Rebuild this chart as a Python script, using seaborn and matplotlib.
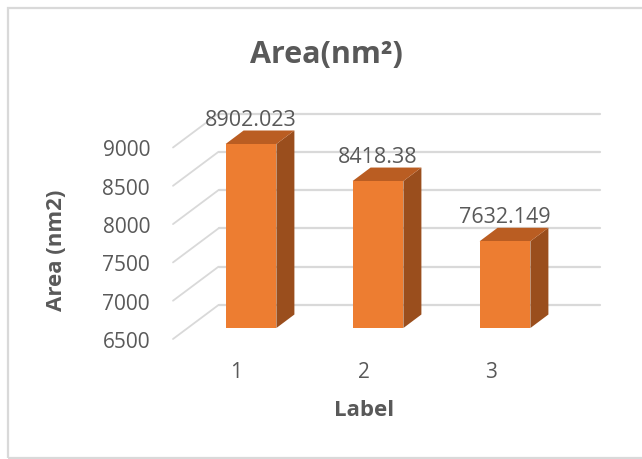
import matplotlib
matplotlib.use("Agg")
import matplotlib.pyplot as plt
from matplotlib.patches import Polygon, Rectangle
from matplotlib.lines import Line2D
from matplotlib.transforms import ScaledTranslation
import seaborn as sns
import pandas as pd

# data
labels = ["1", "2", "3"]
areas = [8902.023, 8418.38, 7632.149]
y_ticks = [6500, 7000, 7500, 8000, 8500, 9000]

TEXT = "#595959"
GRID = "#D9D9D9"
FRONT = "#ED7D31"
SIDE = "#9A4E1D"
TOP = "#BA5D22"
DPI = 100
W, H = 642, 460

sns.set_theme(style="white")
plt.rcParams["font.family"] = ["Open Sans", "DejaVu Sans"]

fig = plt.figure(figsize=(W / DPI, H / DPI), dpi=DPI)
fig.patch.set_facecolor("white")

# plane that holds the bar fronts (pixel layout)
ax = fig.add_axes([187.5 / W, 131 / H, 381 / W, 191.5 / H])
ax.set_facecolor("none")

df = pd.DataFrame({"Label": labels, "Area": areas})
sns.barplot(data=df, x="Label", y="Area", ax=ax, color=FRONT,
            saturation=1, width=0.4, linewidth=0, edgecolor=FRONT, zorder=3)
ax.set_xlim(-0.5, 2.5)
ax.set_ylim(y_ticks[0], y_ticks[-1])
ax.set_yticks(y_ticks)
for s in ax.spines.values():
    s.set_visible(False)
ax.grid(False)

# perspective offsets in pixels
front_dx, front_dy = -14.5, -11
back_dx, back_dy = 31, 23
depth_dx, depth_dy = 18, 13.5

front_off = ScaledTranslation(front_dx / DPI, front_dy / DPI, fig.dpi_scale_trans)
back_off = ScaledTranslation(back_dx / DPI, back_dy / DPI, fig.dpi_scale_trans)

# back wall gridlines and side-wall diagonals
for v in y_ticks:
    ax.plot([-0.5, 2.5], [v, v], color=GRID, lw=1.6,
            transform=ax.transData + back_off, clip_on=False, zorder=0)
inv = ax.transData.inverted()
for v in y_ticks:
    px, py = ax.transData.transform((-0.5, v))
    p0 = inv.transform((px + front_dx, py + front_dy))
    p1 = inv.transform((px + back_dx, py + back_dy))
    ax.add_line(Line2D([p0[0], p1[0]], [p0[1], p1[1]], color=GRID, lw=1.3,
                       clip_on=False, zorder=0))

# depth of each bar in data units
o = ax.transData.transform((0, y_ticks[0]))
d = inv.transform((o[0] + depth_dx, o[1] + depth_dy))
ddx, ddy = d[0], d[1] - y_ticks[0]

base = y_ticks[0]
for bar in list(ax.patches):
    x0 = bar.get_x()
    w = bar.get_width()
    top = bar.get_y() + bar.get_height()
    side = Polygon([(x0 + w, base), (x0 + w, top), (x0 + w + ddx, top + ddy),
                    (x0 + w + ddx, base + ddy)], closed=True, facecolor=SIDE,
                   edgecolor="none", clip_on=False, zorder=2)
    lid = Polygon([(x0, top), (x0 + w, top), (x0 + w + ddx, top + ddy),
                   (x0 + ddx, top + ddy)], closed=True, facecolor=TOP,
                  edgecolor="none", clip_on=False, zorder=2)
    ax.add_patch(side)
    ax.add_patch(lid)

# value labels above each bar
for i, v in enumerate(areas):
    ax.annotate(str(v), xy=(i, v), xytext=(0, 14 * 72 / DPI),
                textcoords="offset points", ha="center", va="bottom",
                fontsize=15.5, color=TEXT, zorder=5, annotation_clip=False)

# tick labels sit on the front plane
ax.tick_params(axis="y", length=0, pad=23 * 72 / DPI, labelsize=15, labelcolor=TEXT)
ax.tick_params(axis="x", length=0, pad=22 * 72 / DPI, labelsize=15, labelcolor=TEXT)
for lab in ax.get_yticklabels() + ax.get_xticklabels():
    lab.set_transform(lab.get_transform() + front_off)

ax.set_xlabel("Label", fontsize=16, fontweight="bold", color=TEXT)
ax.xaxis.set_label_coords((364 - 187.5) / 381, (H - 411 - 131) / 191.5)
ax.xaxis.label.set_va("center")
ax.set_ylabel("Area (nm2)", fontsize=16, fontweight="bold", color=TEXT)
ax.yaxis.set_label_coords((57 - 187.5) / 381, (H - 250 - 131) / 191.5)
ax.yaxis.label.set_va("center")

ax.set_title("Area(nm²)", fontsize=22, fontweight="bold", color=TEXT,
             x=(326 - 187.5) / 381, y=(H - 55 - 131) / 191.5, va="center",
             pad=0)

# chart frame
fig.patches.append(Rectangle((8 / W, 1 / H), 640 / W, 450 / H, fill=False,
                             edgecolor=GRID, lw=1.6, transform=fig.transFigure,
                             figure=fig))

fig.savefig("out.png", dpi=DPI)
